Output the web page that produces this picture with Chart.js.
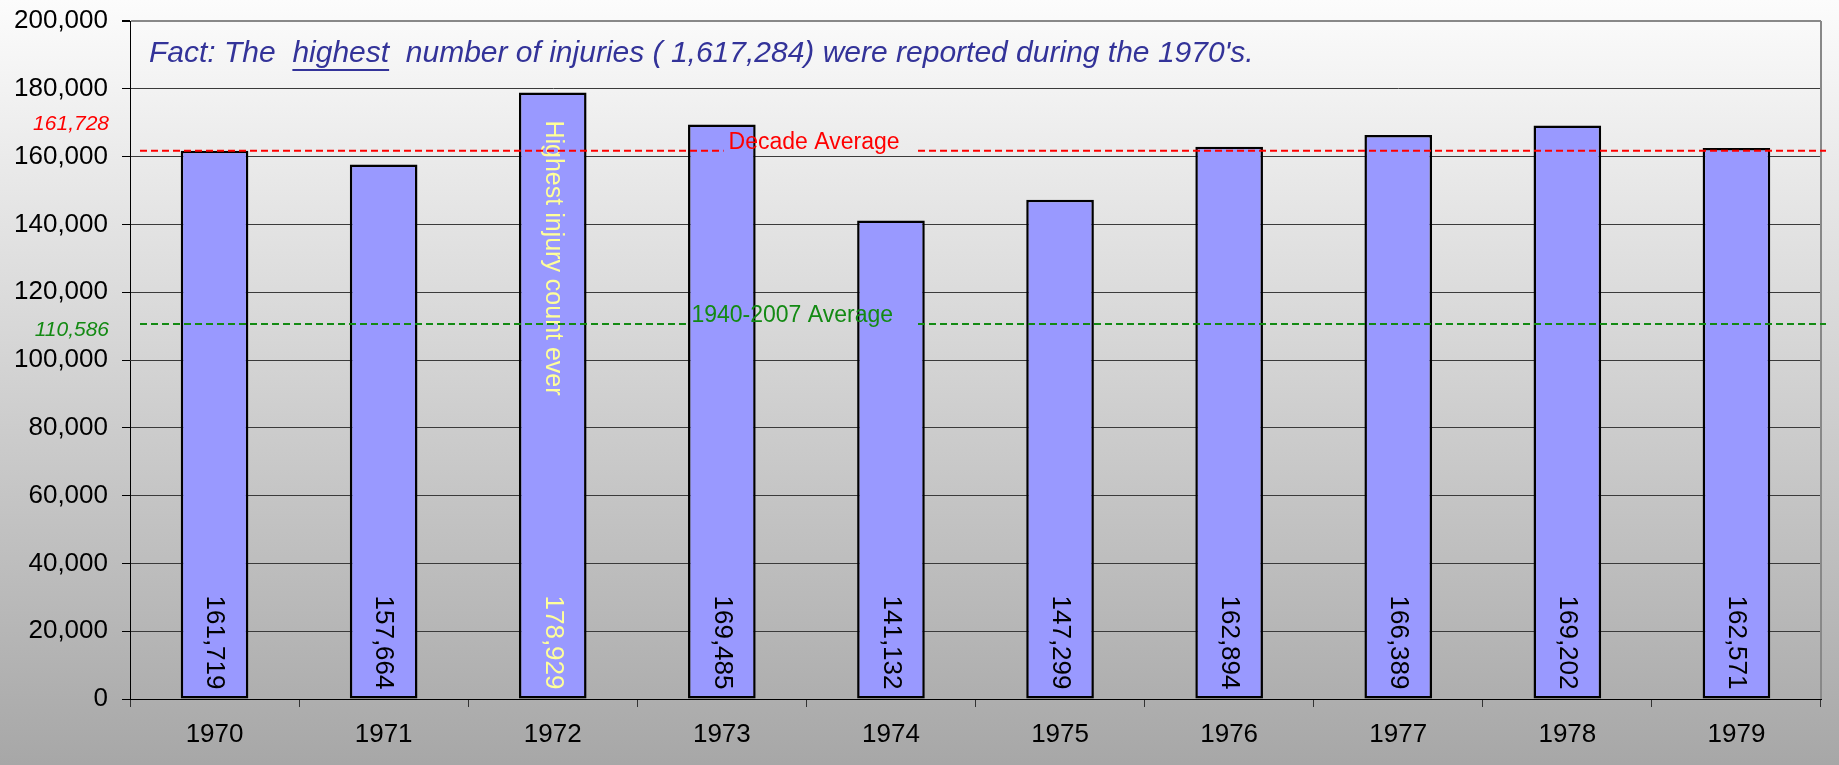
<!DOCTYPE html>
<html>
<head>
<meta charset="utf-8">
<title>Injuries 1970-1979</title>
<script src="https://cdn.jsdelivr.net/npm/chart.js@4.4.1/dist/chart.umd.min.js"></script>
<style>
    html, body { margin: 0; padding: 0; }
    body {
        width: 1839px;
        height: 765px;
        overflow: hidden;
        background: linear-gradient(to bottom, #fcfcfc 0%, #a7a7a7 100%);
    }
    #wrap { position: relative; width: 1839px; height: 765px; }
</style>
</head>
<body>
<div id="wrap"><canvas id="injuryChart"></canvas></div>
<script>
document.addEventListener("DOMContentLoaded", function () {

    const years = ["1970", "1971", "1972", "1973", "1974", "1975", "1976", "1977", "1978", "1979"];
    const injuries = [161719, 157664, 178929, 169485, 141132, 147299, 162894, 166389, 169202, 162571];

    const decadeAverage = 161728;
    const longTermAverage = 110586;
    const yTicks = [0, 20000, 40000, 60000, 80000, 100000, 120000, 140000, 160000, 180000, 200000];

    const fontFamily = "'Liberation Sans', Arial, Helvetica, sans-serif";
    const fmt = v => v.toLocaleString("en-US");

    const total = injuries.reduce((a, b) => a + b, 0);
    const peakIndex = injuries.indexOf(Math.max(...injuries));

    // reference lines: value, colour, caption on the line, where the caption starts (fraction of plot width),
    // and where the side label sits relative to the line
    const refLines = [
        { value: decadeAverage, color: "#ff0000", text: "Decade Average", at: 0.354, textDy: -8, sideDy: -27 },
        { value: longTermAverage, color: "#138a13", text: "1940-2007 Average", at: 0.332, textDy: -8, sideDy: 6 }
    ];

    const notes = {
        id: "notes",
        beforeDatasetsDraw(chart) {
            const { ctx, chartArea } = chart;
            // right frame edge
            ctx.save();
            ctx.strokeStyle = "#888888";
            ctx.lineWidth = 2;
            ctx.beginPath();
            ctx.moveTo(chartArea.right, chartArea.top);
            ctx.lineTo(chartArea.right, chartArea.bottom);
            ctx.stroke();
            ctx.restore();
        },
        afterDatasetsDraw(chart) {
            const { ctx, chartArea } = chart;
            const y = chart.scales.y;
            const meta = chart.getDatasetMeta(0);

            // value labels, rotated, sitting at the foot of each bar
            ctx.save();
            ctx.font = "26px " + fontFamily;
            meta.data.forEach((bar, i) => {
                ctx.save();
                ctx.translate(bar.x, bar.base - 9);
                ctx.rotate(Math.PI / 2);
                ctx.textAlign = "right";
                ctx.textBaseline = "middle";
                ctx.fillStyle = i === peakIndex ? "#ffff99" : "#000000";
                ctx.fillText(fmt(injuries[i]), 0, 0);
                ctx.restore();
            });

            // note on the tallest bar
            const peak = meta.data[peakIndex];
            ctx.save();
            ctx.translate(peak.x, peak.y + 28);
            ctx.rotate(Math.PI / 2);
            ctx.font = "25px " + fontFamily;
            ctx.textAlign = "left";
            ctx.textBaseline = "middle";
            ctx.fillStyle = "#ffff99";
            ctx.fillText("Highest injury count ever", 0, 0);
            ctx.restore();
            ctx.restore();

            // dashed average lines with their captions
            const w = chartArea.right - chartArea.left;
            refLines.forEach(r => {
                const py = y.getPixelForValue(r.value);
                const tx = chartArea.left + r.at * w;
                const gapEnd = chartArea.left + 0.466 * w;
                ctx.save();
                ctx.strokeStyle = r.color;
                ctx.lineWidth = 2;
                ctx.setLineDash([7, 4]);
                ctx.beginPath();
                ctx.moveTo(chartArea.left + 10, py);
                ctx.lineTo(tx - 5, py);
                ctx.moveTo(gapEnd, py);
                ctx.lineTo(chartArea.right + 5, py);
                ctx.stroke();
                ctx.setLineDash([]);

                ctx.fillStyle = r.color;
                ctx.font = "23px " + fontFamily;
                ctx.textAlign = "left";
                ctx.textBaseline = "middle";
                ctx.fillText(r.text, tx, py + r.textDy);

                ctx.font = "italic 21px " + fontFamily;
                ctx.textAlign = "right";
                ctx.fillText(fmt(r.value), chartArea.left - 21, py + r.sideDy);
                ctx.restore();
            });

            // headline inside the plot
            ctx.save();
            ctx.font = "italic 30px " + fontFamily;
            ctx.fillStyle = "#333399";
            ctx.textBaseline = "middle";
            ctx.textAlign = "left";
            const parts = ["Fact: The  ", "highest", "  number of injuries ( " + fmt(total) + ") were reported during the 1970's."];
            let hx = chartArea.left + 19;
            const hy = chartArea.top + 33;
            parts.forEach((p, i) => {
                ctx.fillText(p, hx, hy);
                const pw = ctx.measureText(p).width;
                if (i === 1) {
                    ctx.fillRect(hx, hy + 15, pw, 2);
                }
                hx += pw;
            });
            ctx.restore();
        }
    };

    new Chart(document.getElementById("injuryChart"), {
        type: "bar",
        data: {
            labels: years,
            datasets: [{
                label: "Injuries",
                data: injuries,
                backgroundColor: "#9999ff",
                borderColor: "#000000",
                borderWidth: 2.5,
                borderSkipped: false,
                barPercentage: 0.4,
                categoryPercentage: 1.0
            }]
        },
        options: {
            responsive: true,
            maintainAspectRatio: false,
            animation: false,
            layout: { padding: { top: 21, right: 18, left: 0, bottom: 0 } },
            plugins: {
                legend: { display: false },
                tooltip: { enabled: false }
            },
            scales: {
                x: {
                    afterFit: s => { s.height = 66; },
                    grid: {
                        offset: true,
                        drawOnChartArea: false,
                        drawTicks: true,
                        tickLength: 8,
                        color: "#333333"
                    },
                    border: { display: true, color: "#000000", width: 1 },
                    ticks: {
                        color: "#000000",
                        padding: 12,
                        font: { family: fontFamily, size: 26 }
                    }
                },
                y: {
                    min: 0,
                    max: 200000,
                    afterFit: s => {
                        s.width = 130;
                        s.paddingTop = 0;
                        s.paddingBottom = 0;
                    },
                    afterBuildTicks: s => { s.ticks = yTicks.map(v => ({ value: v })); },
                    grid: {
                        color: c => c.tick && c.tick.value === 200000 ? "#888888" : "#3a3a3a",
                        lineWidth: c => c.tick && c.tick.value === 200000 ? 2 : 1,
                        tickColor: "#000000",
                        tickLength: 8
                    },
                    border: { display: true, color: "#000000", width: 1 },
                    ticks: {
                        color: "#000000",
                        padding: 14,
                        font: { family: fontFamily, size: 26 },
                        callback: v => fmt(v)
                    }
                }
            }
        },
        plugins: [notes]
    });
});
</script>
</body>
</html>
